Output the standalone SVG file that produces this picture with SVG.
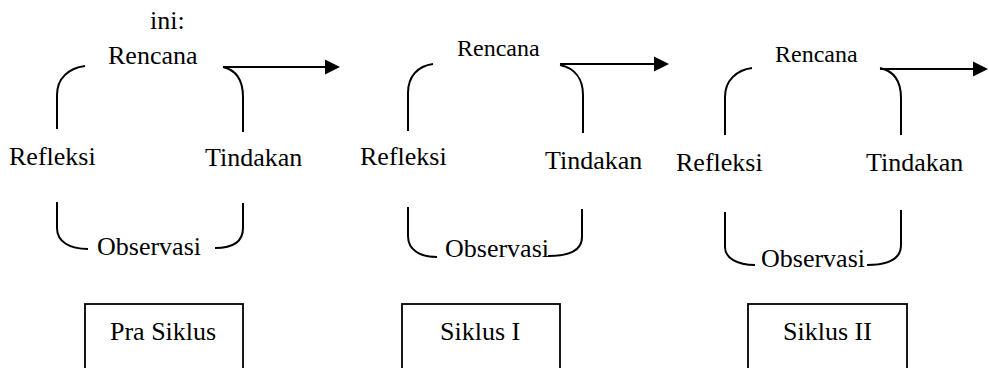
<svg xmlns="http://www.w3.org/2000/svg" width="989" height="368" viewBox="0 0 989 368">
  <style>
    text { font-family: 'Liberation Serif', 'DejaVu Serif', serif; font-size: 26px; fill: #000; }
    .sm { font-size: 24px; }
    .br { fill: none; stroke: #000; stroke-width: 2; }
    .ln { fill: none; stroke: #000; stroke-width: 2.2; }
    .hd { fill: #000; }
    .box { fill: #fff; stroke: #000; stroke-width: 1.8; }
  </style>
  <rect width="989" height="368" fill="#fff"/>

  <g font-family="Liberation Serif, DejaVu Serif, serif">
  <text x="150" y="29">ini:</text>

  <!-- cycle: Pra Siklus -->
  <g id="cycle-pra">
    <path class="br" d="M85,66 C69,68 57,78 57,95 L57,129"/>
    <path class="br" d="M223,67 C236,70 243,80 243,97 L243,132"/>
    <path class="br" d="M57,202 L57,228 C57,242 70,249 88,249"/>
    <path class="br" d="M243,203 L243,228 C243,242 232,248 215,248"/>
    <text x="108" y="64">Rencana</text>
    <text x="9" y="165">Refleksi</text>
    <text x="205" y="166">Tindakan</text>
    <text x="97" y="255">Observasi</text>
  </g>

  <!-- cycle: Siklus I -->
  <g id="cycle-1">
    <path class="br" d="M433,64 C418,66 408,76 408,93 L408,131"/>
    <path class="br" d="M560,65 C574,68 583,78 583,95 L583,133"/>
    <path class="br" d="M408,207 L408,236 C408,250 420,257 437,257"/>
    <path class="br" d="M582,209 L582,237 C582,250 570,256 548,256"/>
    <text class="sm" x="457" y="56">Rencana</text>
    <text x="360" y="165">Refleksi</text>
    <text x="545" y="169">Tindakan</text>
    <text x="445" y="257">Observasi</text>
  </g>

  <!-- cycle: Siklus II -->
  <g id="cycle-2">
    <path class="br" d="M752,68 C737,70 725,80 725,97 L725,135"/>
    <path class="br" d="M880,68 C894,71 901,81 901,98 L901,135"/>
    <path class="br" d="M725,212 L725,247 C725,258 737,265 755,265"/>
    <path class="br" d="M901,210 L901,245 C901,258 890,265 867,265"/>
    <text class="sm" x="775" y="62">Rencana</text>
    <text x="676" y="171">Refleksi</text>
    <text x="866" y="171">Tindakan</text>
    <text x="761" y="267">Observasi</text>
  </g>

  <!-- outgoing arrows -->
  <g id="connectors">
    <path class="ln" d="M223,67 H326"/>
    <polygon class="hd" points="325,59.5 340,67 325,74.5"/>
    <path class="ln" d="M560,64 H655"/>
    <polygon class="hd" points="654,56.5 669,64 654,71.5"/>
    <path class="ln" d="M880,69 H974"/>
    <polygon class="hd" points="973,61.5 988,69 973,76.5"/>
  </g>

  <!-- stage labels -->
  <g id="box-pra">
    <rect class="box" x="85" y="304" width="158" height="80"/>
    <text x="110" y="340">Pra Siklus</text>
  </g>
  <g id="box-1">
    <rect class="box" x="402" y="304" width="158" height="80"/>
    <text x="440" y="340">Siklus I</text>
  </g>
  <g id="box-2">
    <rect class="box" x="748" y="304" width="159" height="80"/>
    <text x="783" y="340">Siklus II</text>
  </g>
  </g>
</svg>
